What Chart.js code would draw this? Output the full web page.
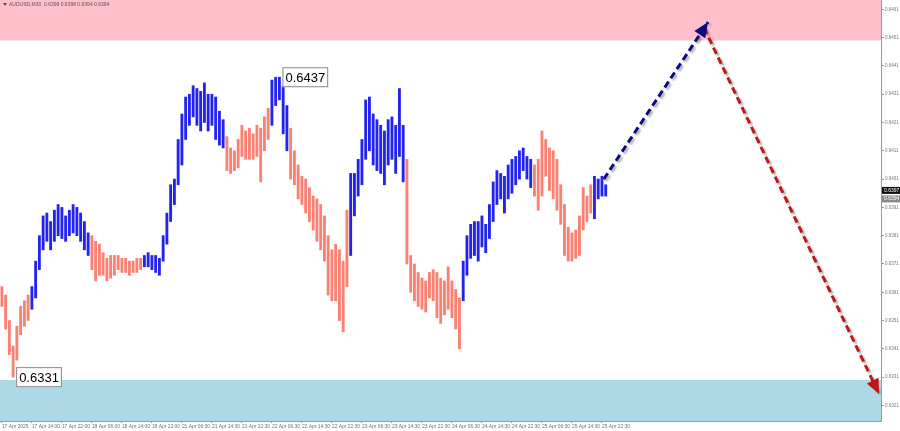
<!DOCTYPE html>
<html>
<head>
<meta charset="utf-8">
<script src="https://cdn.jsdelivr.net/npm/chart.js@4.4.1/dist/chart.umd.min.js"></script>
<style>
  body { margin: 0; background: #fff; }
  #wrap { width: 900px; height: 431px; }
</style>
</head>
<body>
<div id="wrap"><canvas id="myChart"></canvas></div>
<script>
// x axis labels, one every 8 bars
const timeLabels = ['17 Apr 2025', '17 Apr 14:00', '17 Apr 22:00', '18 Apr 06:00', '18 Apr 14:00', '18 Apr 22:00',
    '21 Apr 06:30', '21 Apr 14:30', '21 Apr 22:30', '22 Apr 06:30', '22 Apr 14:30', '22 Apr 22:30',
    '23 Apr 06:30', '23 Apr 14:30', '23 Apr 22:30', '24 Apr 06:30', '24 Apr 14:30', '24 Apr 22:30',
    '25 Apr 06:30', '25 Apr 14:30', '25 Apr 22:30'];

const yTicks = [0.6321, 0.6331, 0.6341, 0.6351, 0.6361, 0.6371, 0.6381, 0.6391, 0.6401,
    0.6411, 0.6421, 0.6431, 0.6441, 0.6451, 0.6461];

// bar highs / lows
const barHigh = [
    0.6363, 0.6360, 0.6351, 0.6342, 0.6349, 0.6356, 0.6358, 0.6360, 0.6363, 0.6372,
    0.6381, 0.6388, 0.6389, 0.6386, 0.6390, 0.6392, 0.6391, 0.6388, 0.6390, 0.6392,
    0.6391, 0.6389, 0.6386, 0.6382, 0.6381, 0.6379, 0.6378, 0.6375, 0.6373, 0.6374,
    0.6374, 0.6374, 0.6373, 0.6373, 0.6372, 0.6372, 0.6373, 0.6373, 0.6374, 0.6375,
    0.6374, 0.6374, 0.6373, 0.6381, 0.6389, 0.6399, 0.6401, 0.6415, 0.6424, 0.6430,
    0.6431, 0.6434, 0.6433, 0.6432, 0.6435, 0.6431, 0.6431, 0.6430, 0.6425, 0.6422,
    0.6416, 0.6412, 0.6411, 0.6415, 0.6420, 0.6418, 0.6419, 0.6417, 0.6420, 0.6419,
    0.6423, 0.6426, 0.6436, 0.6437, 0.6437, 0.6434, 0.6427, 0.6419, 0.6411, 0.6406,
    0.6402, 0.6401, 0.6398, 0.6395, 0.6394, 0.6392, 0.6388, 0.6381, 0.6376, 0.6378,
    0.6376, 0.6372, 0.6390, 0.6403, 0.6403, 0.6408, 0.6415, 0.6429, 0.6430, 0.6424,
    0.6422, 0.6420, 0.6418, 0.6422, 0.6423, 0.6420, 0.6433, 0.6420, 0.6408, 0.6374,
    0.6371, 0.6368, 0.6366, 0.6365, 0.6368, 0.6369, 0.6368, 0.6366, 0.6365, 0.6370,
    0.6365, 0.6362, 0.6359, 0.6372, 0.6381, 0.6385, 0.6386, 0.6386, 0.6388, 0.6385,
    0.6392, 0.6400, 0.6404, 0.6403, 0.6402, 0.6406, 0.6408, 0.6409, 0.6411, 0.6412,
    0.6409, 0.6408, 0.6406, 0.6408, 0.6418, 0.6415, 0.6412, 0.6411, 0.6408, 0.6399,
    0.6392, 0.6384, 0.6382, 0.6383, 0.6388, 0.6398, 0.6395, 0.6399, 0.6402, 0.6401,
    0.6402, 0.6399
];
const barLow = [
    0.6356, 0.6348, 0.6339, 0.6331, 0.6337, 0.6346, 0.6349, 0.6351, 0.6355, 0.6359,
    0.6369, 0.6376, 0.6379, 0.6376, 0.6379, 0.6381, 0.6380, 0.6379, 0.6381, 0.6382,
    0.6381, 0.6379, 0.6376, 0.6374, 0.6369, 0.6365, 0.6367, 0.6367, 0.6365, 0.6366,
    0.6367, 0.6369, 0.6368, 0.6368, 0.6367, 0.6368, 0.6368, 0.6369, 0.6370, 0.6370,
    0.6369, 0.6368, 0.6367, 0.6372, 0.6378, 0.6386, 0.6392, 0.6399, 0.6406, 0.6415,
    0.6420, 0.6423, 0.6420, 0.6418, 0.6421, 0.6418, 0.6420, 0.6415, 0.6413, 0.6412,
    0.6404, 0.6403, 0.6404, 0.6405, 0.6409, 0.6408, 0.6408, 0.6408, 0.6409, 0.6400,
    0.6411, 0.6415, 0.6420, 0.6427, 0.6429, 0.6417, 0.6411, 0.6401, 0.6399, 0.6394,
    0.6392, 0.6389, 0.6386, 0.6383, 0.6379, 0.6376, 0.6372, 0.6360, 0.6358, 0.6358,
    0.6351, 0.6347, 0.6363, 0.6374, 0.6388, 0.6395, 0.6399, 0.6408, 0.6411, 0.6406,
    0.6404, 0.6403, 0.6399, 0.6406, 0.6408, 0.6403, 0.6409, 0.6400, 0.6371, 0.6361,
    0.6358, 0.6356, 0.6355, 0.6354, 0.6359, 0.6358, 0.6352, 0.6350, 0.6353, 0.6355,
    0.6352, 0.6348, 0.6341, 0.6358, 0.6367, 0.6373, 0.6374, 0.6372, 0.6377, 0.6375,
    0.6380, 0.6386, 0.6392, 0.6394, 0.6389, 0.6394, 0.6396, 0.6399, 0.6401, 0.6404,
    0.6401, 0.6398, 0.6395, 0.6390, 0.6395, 0.6402, 0.6397, 0.6394, 0.6390, 0.6385,
    0.6374, 0.6372, 0.6372, 0.6373, 0.6374, 0.6383, 0.6386, 0.6389, 0.6387, 0.6394,
    0.6395, 0.6395
];

// bar index where each wave starts, and its direction
const waveStart = [0, 8, 24, 38, 60, 72, 77, 93, 108, 123, 142, 158];
const waveDir = ['down', 'up', 'down', 'up', 'down', 'up', 'down', 'up', 'down', 'up', 'down', 'up'];

// forecast arrows
const upArrowX = [160.5, 188.3];
const upArrowY = [0.6401, 0.64565];
const downArrowX = [187.2, 233.9];
const downArrowY = [0.64545, 0.6325];

// zones
const resistZone = [0.6450, 0.6470];
const supportZone = [0.6300, 0.6330];

// marked extremes
const markText = ['0.6437', '0.6331'];
const markIndex = [74, 3];
const markValue = [0.6437, 0.6331];

const bidAsk = [0.6397, 0.6394];
const header = 'AUDUSD,M30  0.6398 0.6398 0.6394 0.6394';

const upColor = 'rgb(35, 35, 240)';
const downColor = 'rgb(250, 128, 114)';

const barColors = barHigh.map(function (h, i) {
    let dir = waveDir[0];
    for (let k = 0; k < waveStart.length; k++) {
        if (i >= waveStart[k]) dir = waveDir[k];
    }
    return dir === 'up' ? upColor : downColor;
});

const zonesPlugin = {
    id: 'zones',
    beforeDatasetsDraw(chart) {
        const ctx = chart.ctx, a = chart.chartArea, y = chart.scales.y;
        ctx.save();
        let t = Math.max(a.top, y.getPixelForValue(resistZone[1]));
        let b = y.getPixelForValue(resistZone[0]);
        ctx.fillStyle = 'rgb(255, 192, 203)';
        ctx.fillRect(a.left, t, a.width, b - t);
        t = y.getPixelForValue(supportZone[1]);
        b = Math.min(a.bottom, y.getPixelForValue(supportZone[0]));
        ctx.fillStyle = 'rgb(173, 216, 230)';
        ctx.fillRect(a.left, t, a.width, b - t);
        ctx.restore();
    }
};

const shadowPlugin = {
    id: 'shadow',
    beforeDatasetDraw(chart, args) {
        if (args.index === 0) return;
        const ctx = chart.ctx;
        ctx.save();
        ctx.shadowColor = 'rgba(0,0,0,0.3)';
        ctx.shadowOffsetX = 2;
        ctx.shadowOffsetY = 2;
        ctx.shadowBlur = 2;
    },
    afterDatasetDraw(chart, args) {
        if (args.index === 0) return;
        chart.ctx.restore();
    }
};

const extrasPlugin = {
    id: 'extras',
    afterDatasetsDraw(chart) {
        const ctx = chart.ctx, xs = chart.scales.x, ys = chart.scales.y;
        ctx.save();
        // arrow heads
        [1, 2].forEach(function (di) {
            const pts = chart.getDatasetMeta(di).data;
            const p0 = pts[pts.length - 2], p1 = pts[pts.length - 1];
            const ang = Math.atan2(p1.y - p0.y, p1.x - p0.x);
            const L = 15, W = 6.5;
            const c = Math.cos(ang), s = Math.sin(ang);
            ctx.fillStyle = chart.data.datasets[di].borderColor;
            ctx.beginPath();
            ctx.moveTo(p1.x, p1.y);
            ctx.lineTo(p1.x - L * c + W * s, p1.y - L * s - W * c);
            ctx.lineTo(p1.x - L * c - W * s, p1.y - L * s + W * c);
            ctx.closePath();
            ctx.fill();
        });
        // extreme labels
        ctx.font = '13px "Liberation Sans"';
        ctx.textBaseline = 'middle';
        markText.forEach(function (txt, i) {
            const x = xs.getPixelForValue(markIndex[i]) + 3;
            const y = ys.getPixelForValue(markValue[i]);
            const w = ctx.measureText(txt).width + 5;
            ctx.fillStyle = '#fff';
            ctx.fillRect(x, y - 10, w, 20);
            ctx.strokeStyle = '#888';
            ctx.lineWidth = 1;
            ctx.strokeRect(x + 0.5, y - 9.5, w, 19);
            ctx.fillStyle = '#000';
            ctx.fillText(txt, x + 3, y + 1);
        });
        ctx.restore();
    },
    afterDraw(chart) {
        const ctx = chart.ctx, a = chart.chartArea, ys = chart.scales.y;
        ctx.save();
        ctx.font = '5px "Liberation Sans"';
        ctx.textBaseline = 'middle';
        bidAsk.forEach(function (v, i) {
            const y = ys.getPixelForValue(v);
            ctx.fillStyle = i === 0 ? '#111' : '#8a8a8a';
            ctx.fillRect(a.right + 1, y - 3.5, 19, 7);
            ctx.fillStyle = '#fff';
            ctx.fillText(v.toFixed(4), a.right + 3, y);
        });
        // header
        ctx.fillStyle = '#555';
        ctx.beginPath();
        ctx.moveTo(3, 3);
        ctx.lineTo(7, 3);
        ctx.lineTo(5, 6);
        ctx.fill();
        ctx.fillText(header, 9, 4.5);
        ctx.restore();
    }
};

const ctx = document.getElementById('myChart');
const mychart = new Chart(ctx, {
    type: 'bar',
    data: {
        datasets: [
            {
                label: 'bars',
                data: barHigh.map(function (h, i) { return { x: i, y: [barLow[i], h] }; }),
                backgroundColor: barColors,
                borderWidth: 0,
                barThickness: 2.2
            },
            {
                type: 'line',
                label: 'up',
                data: upArrowX.map(function (x, i) { return { x: x, y: upArrowY[i] }; }),
                borderColor: 'rgb(10, 10, 130)',
                borderWidth: 3,
                borderDash: [7, 4],
                pointRadius: 0
            },
            {
                type: 'line',
                label: 'down',
                data: downArrowX.map(function (x, i) { return { x: x, y: downArrowY[i] }; }),
                borderColor: 'rgb(190, 25, 25)',
                borderWidth: 3,
                borderDash: [7, 4],
                pointRadius: 0
            }
        ]
    },
    options: {
        responsive: true,
        maintainAspectRatio: false,
        animation: false,
        layout: { padding: 0 },
        plugins: { legend: { display: false }, tooltip: { enabled: false } },
        scales: {
            x: {
                type: 'linear',
                offset: false,
                min: -0.5,
                max: 234.4,
                afterBuildTicks: function (scale) {
                    scale.ticks = timeLabels.map(function (t, i) { return { value: i * 8 }; });
                },
                afterFit: function (scale) {
                    scale.height = 10;
                    scale.paddingLeft = 0;
                    scale.paddingRight = 0;
                },
                grid: { offset: false, drawOnChartArea: false, tickLength: 2, color: '#999' },
                border: { color: '#999' },
                ticks: {
                    align: 'start',
                    maxRotation: 0,
                    autoSkip: false,
                    padding: 1,
                    color: '#6f6f6f',
                    font: { family: 'Liberation Sans', size: 4.9 },
                    callback: function (v) { return timeLabels[Math.round(v / 8)] || ''; }
                }
            },
            y: {
                position: 'right',
                min: 0.63155,
                max: 0.64643,
                afterBuildTicks: function (scale) {
                    scale.ticks = yTicks.map(function (v) { return { value: v }; });
                },
                afterFit: function (scale) {
                    scale.width = 19;
                    scale.paddingTop = 0;
                    scale.paddingBottom = 0;
                },
                grid: { drawOnChartArea: false, tickLength: 3, color: '#999' },
                border: { color: '#999' },
                ticks: {
                    padding: 1,
                    color: '#777',
                    font: { family: 'Liberation Sans', size: 4.5 },
                    callback: function (v) { return v.toFixed(4); }
                }
            }
        }
    },
    plugins: [zonesPlugin, shadowPlugin, extrasPlugin]
});
</script>
</body>
</html>
